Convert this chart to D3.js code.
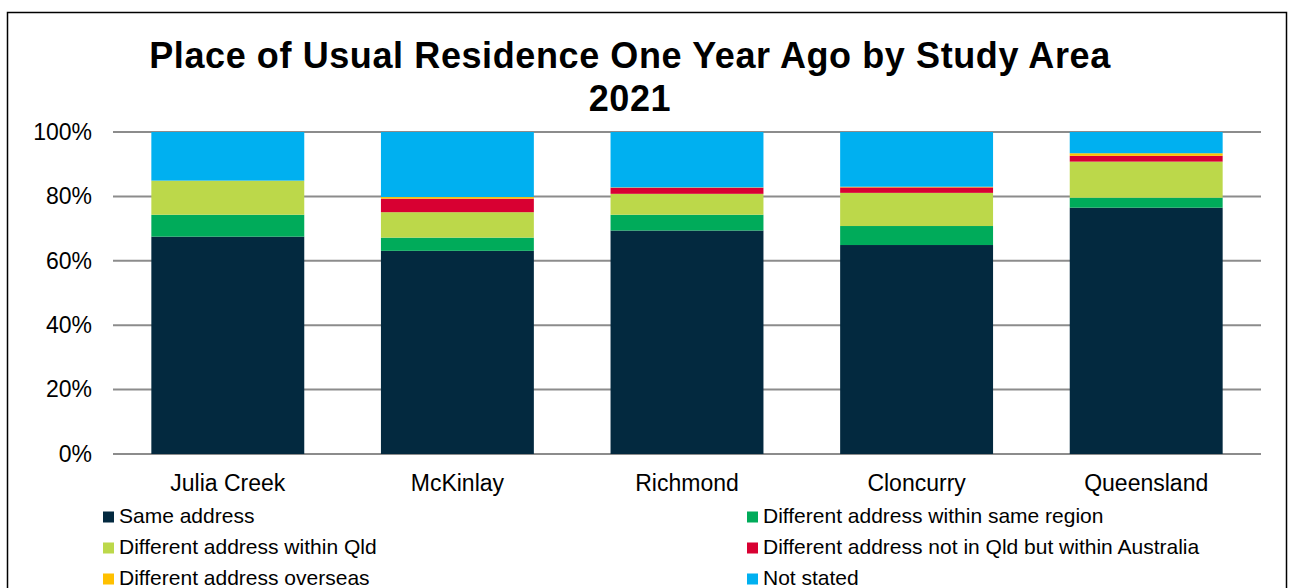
<!DOCTYPE html>
<html>
<head>
<meta charset="utf-8">
<script src="https://cdn.jsdelivr.net/npm/d3@7"></script>
<style>
  html, body { margin: 0; padding: 0; background: #fff; }
  svg { display: block; font-family: "Liberation Sans", Arial, sans-serif; }
</style>
</head>
<body>
<svg id="chart" width="1292" height="588"></svg>
<script>
// Study areas shown along the x axis
const areas = ["Julia Creek", "McKinlay", "Richmond", "Cloncurry", "Queensland"];

// Share of persons (%) by place of usual residence one year ago
const sameAddress      = [67.5, 63.1, 69.4, 64.9, 76.5];
const sameRegion       = [6.8, 4.1, 4.9, 5.9, 3.1];
const withinQld        = [10.6, 7.9, 6.5, 10.3, 11.2];
const otherState       = [0.0, 4.2, 1.9, 1.7, 1.8];
const overseas         = [0.0, 0.5, 0.1, 0.2, 0.8];
const notStated        = [15.1, 20.2, 17.2, 17.0, 6.6];

const seriesNames = [
  "Same address",
  "Different address within same region",
  "Different address within Qld",
  "Different address not in Qld but within Australia",
  "Different address overseas",
  "Not stated"
];
const seriesColors = ["#03293f", "#00ab5a", "#bcd84a", "#d80032", "#ffc000", "#00b0f0"];
const yTicks = [0, 0.2, 0.4, 0.6, 0.8, 1.0];

const seriesValues = [sameAddress, sameRegion, withinQld, otherState, overseas, notStated];
const keys = seriesNames;
const rows = areas.map((a, i) => {
  const r = { area: a };
  keys.forEach((k, j) => { r[k] = seriesValues[j][i] / 100; });
  return r;
});

const svg = d3.select("#chart");

// outer frame
svg.append("rect")
  .attr("x", 7.5).attr("y", 12.5)
  .attr("width", 1279).attr("height", 600)
  .attr("fill", "none").attr("stroke", "#000").attr("stroke-width", 1.5);

// title
const title = svg.append("text")
  .attr("text-anchor", "middle")
  .attr("font-weight", "bold")
  .attr("font-size", 36)
  .attr("letter-spacing", 0.6)
  .attr("fill", "#000");
title.append("tspan").attr("x", 630).attr("y", 68).text("Place of Usual Residence One Year Ago by Study Area");
title.append("tspan").attr("x", 630).attr("y", 111).text("2021");

const plot = { left: 113, right: 1261, top: 132, bottom: 454 };

const x = d3.scaleBand()
  .domain(areas)
  .range([plot.left, plot.right])
  .paddingInner(0.334)
  .paddingOuter(0.167);

const y = d3.scaleLinear().domain([0, 1]).range([plot.bottom, plot.top]);

// gridlines
svg.append("g")
  .selectAll("line")
  .data(yTicks)
  .join("line")
  .attr("x1", plot.left).attr("x2", plot.right)
  .attr("y1", d => y(d)).attr("y2", d => y(d))
  .attr("stroke", "#8c8c8c").attr("stroke-width", 2);

// y axis labels
const yAxis = d3.axisLeft(y).tickValues(yTicks).tickFormat(d3.format(".0%")).tickSize(0).tickPadding(0);
const yg = svg.append("g").attr("transform", `translate(${plot.left - 21},0)`).call(yAxis);
yg.select(".domain").remove();
yg.selectAll("text").attr("font-size", 23).attr("fill", "#000")
  .attr("font-family", "'Liberation Sans', Arial, sans-serif");

// stacked bars
const stack = d3.stack().keys(keys)(rows);
const color = d3.scaleOrdinal().domain(keys).range(seriesColors);

svg.append("g")
  .selectAll("g")
  .data(stack)
  .join("g")
  .attr("fill", d => color(d.key))
  .selectAll("rect")
  .data(d => d)
  .join("rect")
  .attr("x", d => x(d.data.area))
  .attr("width", x.bandwidth())
  .attr("y", d => y(d[1]))
  .attr("height", d => Math.max(0, y(d[0]) - y(d[1])));

// x axis labels
const xAxis = d3.axisBottom(x).tickSize(0).tickPadding(0);
const xg = svg.append("g").attr("transform", `translate(0,491)`).call(xAxis);
xg.select(".domain").remove();
xg.selectAll("text").attr("font-size", 23).attr("fill", "#000").attr("dy", 0).attr("y", 0)
  .attr("font-family", "'Liberation Sans', Arial, sans-serif");

// legend, two columns
const legend = svg.append("g");
const colX = [103, 747];
const rowY = [523, 554, 585];
const li = legend.selectAll("g")
  .data(keys)
  .join("g")
  .attr("transform", (d, i) => `translate(${colX[i % 2]},${rowY[Math.floor(i / 2)]})`);
li.append("rect")
  .attr("x", 0).attr("y", -11.5)
  .attr("width", 11).attr("height", 11)
  .attr("fill", d => color(d));
li.append("text")
  .attr("x", 16).attr("y", 0)
  .attr("font-size", 21).attr("fill", "#000")
  .text(d => d);
</script>
</body>
</html>
